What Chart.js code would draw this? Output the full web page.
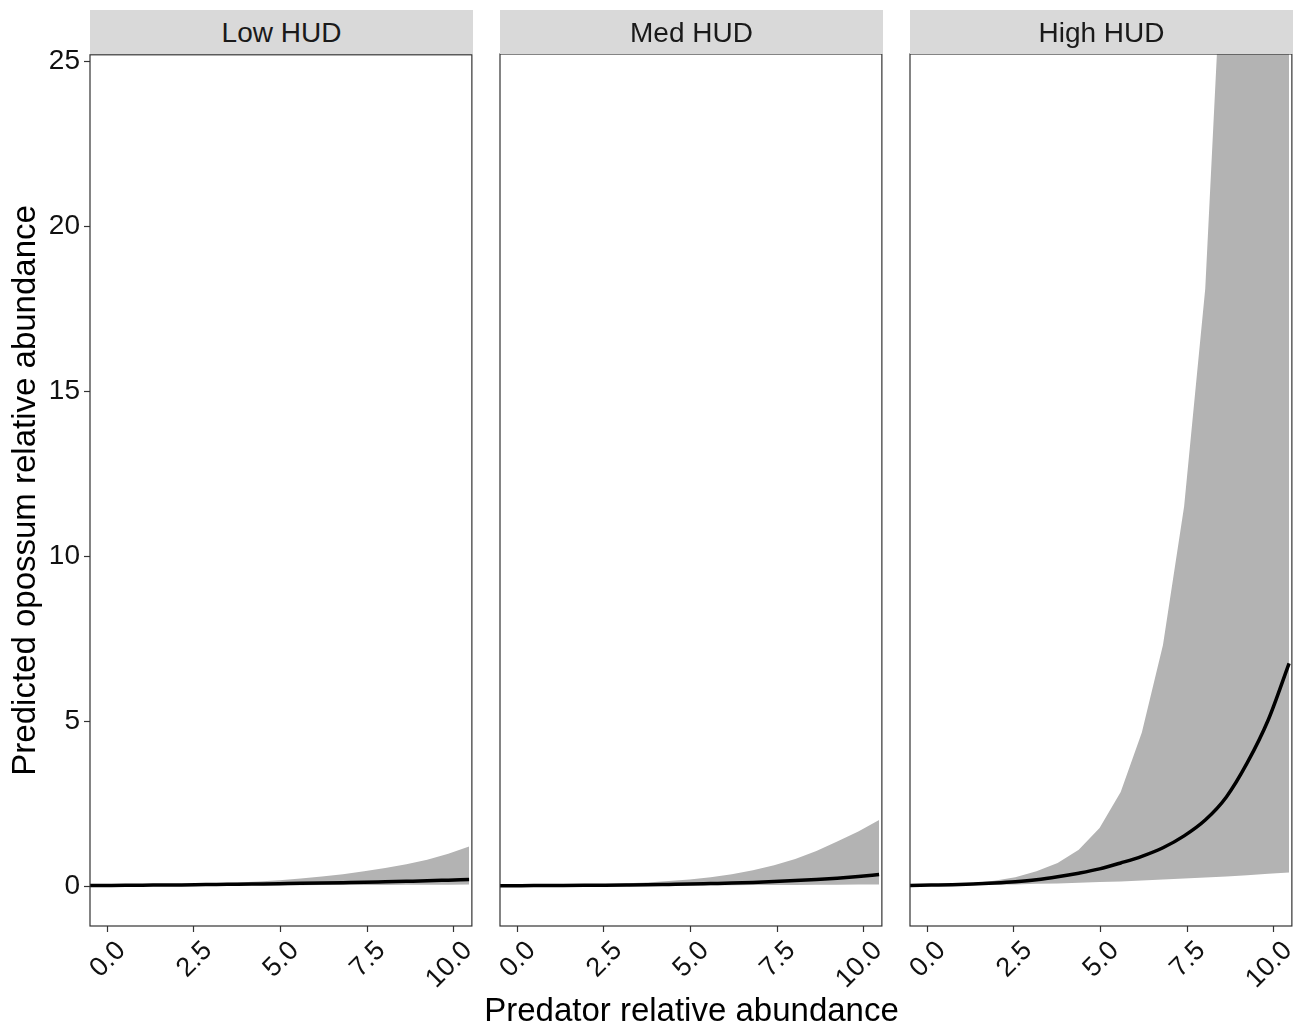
<!DOCTYPE html>
<html>
<head>
<meta charset="utf-8">
<script src="https://cdn.jsdelivr.net/npm/chart.js@4.4.1/dist/chart.umd.min.js"></script>
<style>
  body { margin: 0; background: #fff; font-family: "Liberation Sans", Arial, sans-serif; }
  #page { position: relative; width: 1311px; height: 1028px; overflow: hidden; }
  .panel { position: absolute; top: 34px; height: 994px; }
  .strip { position: absolute; top: 10px; height: 44px; width: 383px; background: #d9d9d9;
           color: #1a1a1a; font-size: 28px; line-height: 46px; text-align: center; }
  #xtitle { position: absolute; left: 90px; width: 1203px; top: 992px; text-align: center;
            font-size: 33px; line-height: 36px; color: #000; }
</style>
</head>
<body>
<div id="page">
  <div class="panel" style="left:0;width:480px"><canvas id="low"></canvas></div>
  <div class="panel" style="left:470px;width:420px"><canvas id="med"></canvas></div>
  <div class="panel" style="left:880px;width:420px"><canvas id="high"></canvas></div>
  <div class="strip" style="left:90px">Low HUD</div>
  <div class="strip" style="left:500px">Med HUD</div>
  <div class="strip" style="left:910px">High HUD</div>
  <div id="xtitle">Predator relative abundance</div>
</div>
<script>
// predator relative abundance (shared x for every panel)
const predator = [-0.5, 0.11, 0.72, 1.32, 1.93, 2.54, 3.15, 3.76, 4.37, 4.97,
                  5.58, 6.19, 6.80, 7.41, 8.02, 8.63, 9.23, 9.84, 10.44];

const lowFit   = [0.02, 0.02, 0.025, 0.03, 0.035, 0.04, 0.05, 0.055, 0.065, 0.075,
                  0.085, 0.095, 0.105, 0.115, 0.13, 0.145, 0.16, 0.18, 0.20];
const lowUpper = [0.03, 0.035, 0.04, 0.05, 0.06, 0.07, 0.09, 0.11, 0.14, 0.18,
                  0.23, 0.29, 0.36, 0.45, 0.55, 0.66, 0.80, 0.98, 1.2];
const lowLower = [0.01, 0.01, 0.012, 0.014, 0.016, 0.018, 0.02, 0.022, 0.024, 0.026,
                  0.028, 0.03, 0.032, 0.034, 0.036, 0.038, 0.04, 0.042, 0.045];

const medFit   = [0.01, 0.012, 0.015, 0.018, 0.022, 0.027, 0.033, 0.04, 0.05, 0.06,
                  0.075, 0.09, 0.11, 0.135, 0.165, 0.2, 0.24, 0.29, 0.35];
const medUpper = [0.02, 0.025, 0.03, 0.04, 0.05, 0.065, 0.085, 0.11, 0.15, 0.2,
                  0.27, 0.36, 0.48, 0.63, 0.82, 1.06, 1.35, 1.65, 2.0];
const medLower = [0.005, 0.006, 0.007, 0.008, 0.01, 0.012, 0.014, 0.016, 0.018, 0.02,
                  0.023, 0.026, 0.029, 0.032, 0.035, 0.038, 0.042, 0.046, 0.05];

const highFit   = [0.02, 0.03, 0.04, 0.06, 0.09, 0.13, 0.19, 0.28, 0.39, 0.52,
                   0.70, 0.90, 1.16, 1.52, 2.0, 2.7, 3.73, 5.04, 6.75];
const highUpper = [0.03, 0.04, 0.06, 0.09, 0.16, 0.27, 0.45, 0.70, 1.10, 1.76,
                   2.85, 4.65, 7.3, 11.5, 18.1, 31, 50, 80, 130];
const highLower = [0.01, 0.015, 0.02, 0.03, 0.04, 0.05, 0.07, 0.08, 0.10, 0.12,
                   0.14, 0.17, 0.20, 0.23, 0.26, 0.29, 0.33, 0.37, 0.41];

const xTicks = [0, 2.5, 5, 7.5, 10];
const yTicks = [0, 5, 10, 15, 20, 25];

const FONT = '"Liberation Sans", Arial, sans-serif';

const panelBorder = {
  id: 'panelBorder',
  afterDatasetsDraw(chart) {
    const { ctx, chartArea: a } = chart;
    ctx.save();
    ctx.strokeStyle = '#333';
    ctx.lineWidth = 1.2;
    ctx.strokeRect(a.left, a.top, a.right - a.left, a.bottom - a.top);
    ctx.restore();
  }
};

function pts(ys) {
  return predator.map((x, i) => ({ x, y: ys[i] }));
}

function makePanel(id, fit, upper, lower, showY) {
  new Chart(document.getElementById(id), {
    type: 'line',
    data: {
      datasets: [
        { data: pts(lower), borderWidth: 0, pointRadius: 0, fill: false, order: 2 },
        { data: pts(upper), borderWidth: 0, pointRadius: 0, fill: '-1', order: 1,
          backgroundColor: '#b3b3b3' },
        { data: pts(fit), borderColor: '#000', borderWidth: 3.5, pointRadius: 0, order: 0,
          fill: false, cubicInterpolationMode: 'monotone' }
      ]
    },
    options: {
      responsive: true,
      maintainAspectRatio: false,
      animation: false,
      layout: { padding: { top: 20, right: 5, left: showY ? 0 : 30, bottom: 0 } },
      plugins: { legend: { display: false }, tooltip: { enabled: false } },
      scales: {
        x: {
          type: 'linear',
          min: -0.5,
          max: 10.52,
          afterBuildTicks: s => { s.ticks = xTicks.map(v => ({ value: v })); },
          afterFit: s => { s.height = 102; },
          grid: { drawOnChartArea: false, tickLength: 6, color: '#333', tickWidth: 1.2 },
          border: { display: false },
          ticks: {
            minRotation: 45, maxRotation: 45, labelOffset: 14, padding: 3,
            color: '#111', font: { family: FONT, size: 27 },
            callback: v => v.toFixed(1)
          }
        },
        y: {
          display: showY,
          min: -1.21,
          max: 25.21,
          afterBuildTicks: s => { s.ticks = yTicks.map(v => ({ value: v })); },
          afterFit: s => { if (showY) s.width = 90; },
          grid: { drawOnChartArea: false, tickLength: 6, color: '#333', tickWidth: 1.2 },
          border: { display: false },
          ticks: { padding: 4, color: '#111', font: { family: FONT, size: 28 } },
          title: {
            display: true, text: 'Predicted opossum relative abundance',
            color: '#000', font: { family: FONT, size: 33 }, padding: { top: 6, bottom: 0 }
          }
        }
      }
    },
    plugins: [panelBorder]
  });
}

makePanel('low', lowFit, lowUpper, lowLower, true);
makePanel('med', medFit, medUpper, medLower, false);
makePanel('high', highFit, highUpper, highLower, false);
</script>
</body>
</html>
